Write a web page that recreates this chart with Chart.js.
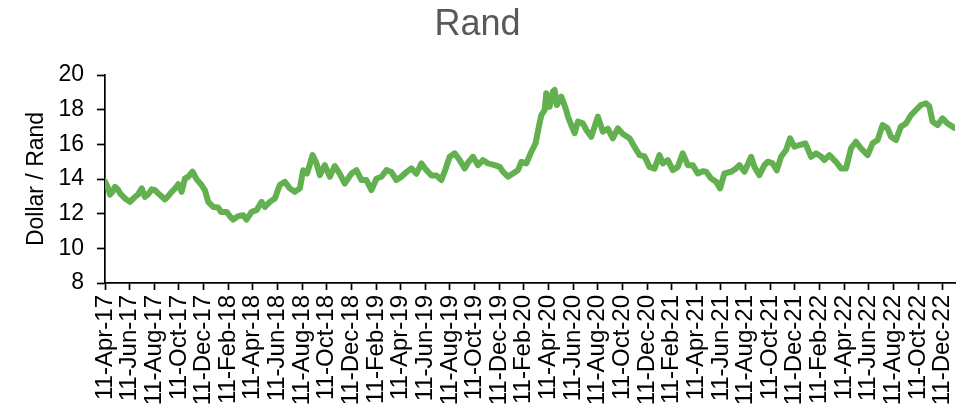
<!DOCTYPE html>
<html>
<head>
<meta charset="utf-8">
<title>Rand</title>
<script src="https://cdn.jsdelivr.net/npm/chart.js@4.4.1/dist/chart.umd.min.js"></script>
<style>
  html, body { margin: 0; padding: 0; background: #ffffff; }
  #wrap { width: 957px; height: 411px; }
</style>
</head>
<body>
<div id="wrap"><canvas id="chart" width="957" height="411"></canvas></div>
<script>
// Axis labels, one every two months starting 11 April 2017
const tickLabels = [
  '11-Apr-17', '11-Jun-17', '11-Aug-17', '11-Oct-17', '11-Dec-17',
  '11-Feb-18', '11-Apr-18', '11-Jun-18', '11-Aug-18', '11-Oct-18', '11-Dec-18',
  '11-Feb-19', '11-Apr-19', '11-Jun-19', '11-Aug-19', '11-Oct-19', '11-Dec-19',
  '11-Feb-20', '11-Apr-20', '11-Jun-20', '11-Aug-20', '11-Oct-20', '11-Dec-20',
  '11-Feb-21', '11-Apr-21', '11-Jun-21', '11-Aug-21', '11-Oct-21', '11-Dec-21',
  '11-Feb-22', '11-Apr-22', '11-Jun-22', '11-Aug-22', '11-Oct-22', '11-Dec-22'
];

// Observation times, in months after 11 April 2017
const monthOffsets = [
  0, 0.24, 0.41, 0.65, 0.81, 1.05, 1.22, 1.62, 2.03, 2.43,
  2.68, 2.98, 3.24, 3.49, 3.79, 4.06, 4.32, 4.87, 5.11, 5.41,
  5.68, 5.94, 6.22, 6.49, 6.76, 7.11, 7.44, 7.84, 8.11, 8.38,
  8.78, 9.19, 9.41, 9.87, 10.14, 10.41, 10.81, 11.22, 11.49, 11.90,
  12.30, 12.71, 12.98, 13.38, 13.79, 14.19, 14.60, 15.00, 15.41, 15.82,
  16.08, 16.41, 16.85, 17.17, 17.44, 17.84, 18.25, 18.65, 19.06, 19.46,
  20.01, 20.41, 20.82, 21.22, 21.63, 22.04, 22.44, 22.85, 23.25, 23.66,
  24.06, 24.47, 24.87, 25.28, 25.69, 26.09, 26.50, 26.90, 27.31, 27.66,
  27.98, 28.39, 28.79, 29.20, 29.52, 29.87, 30.28, 30.68, 31.09, 31.63,
  32.04, 32.30, 32.71, 33.11, 33.52, 33.80, 34.20, 34.61, 34.95, 35.22,
  35.42, 35.69, 35.82, 36.09, 36.36, 36.50, 36.68, 37.04, 37.39, 37.58,
  37.85, 38.12, 38.39, 38.79, 39.07, 39.47, 40.01, 40.41, 40.82, 41.22,
  41.63, 42.04, 42.58, 42.98, 43.39, 43.80, 44.20, 44.61, 45.01, 45.28,
  45.69, 46.09, 46.50, 46.90, 47.31, 47.71, 48.12, 48.52, 48.80, 49.20,
  49.61, 49.93, 50.28, 50.83, 51.23, 51.50, 51.91, 52.45, 52.72, 53.12,
  53.53, 53.80, 54.20, 54.53, 54.88, 55.29, 55.61, 55.96, 56.37, 56.85,
  57.32, 57.72, 58.13, 58.39, 58.80, 59.34, 59.75, 60.15, 60.56, 60.96,
  61.37, 61.91, 62.31, 62.72, 63.12, 63.53, 63.80, 64.21, 64.61, 65.02,
  65.43, 65.83, 66.24, 66.64, 66.91, 67.18, 67.58, 67.99, 68.39, 68.80,
  68.94
];

// Rand per US dollar at each observation
const dollarRand = [
  13.85, 13.5, 13.1, 13.3, 13.55, 13.4, 13.17, 12.88, 12.68, 12.97,
  13.1, 13.46, 12.97, 13.1, 13.40, 13.35, 13.17, 12.82, 13.0, 13.26,
  13.45, 13.70, 13.26, 14.03, 14.13, 14.42, 13.98, 13.65, 13.36, 12.68,
  12.39, 12.36, 12.1, 12.1, 11.85, 11.66, 11.86, 11.91, 11.66, 12.1,
  12.2, 12.68, 12.39, 12.68, 12.88, 13.65, 13.84, 13.46, 13.26, 13.46,
  14.51, 14.32, 15.38, 14.9, 14.22, 14.8, 14.13, 14.75, 14.3, 13.74,
  14.32, 14.51, 13.94, 13.94, 13.36, 14.03, 14.13, 14.51, 14.4, 13.94,
  14.13, 14.4, 14.61, 14.3, 14.9, 14.51, 14.2, 14.2, 13.94, 14.61,
  15.28, 15.48, 15.09, 14.61, 15.0, 15.28, 14.80, 15.09, 14.9, 14.8,
  14.70, 14.42, 14.13, 14.32, 14.51, 14.99, 14.9, 15.57, 16.06, 17.02,
  17.69, 17.98, 18.95, 18.17, 19.04, 19.14, 18.27, 18.75, 18.08, 17.60,
  17.11, 16.64, 17.31, 17.21, 16.83, 16.44, 17.60, 16.73, 16.9, 16.35,
  16.92, 16.6, 16.35, 15.86, 15.38, 15.3, 14.70, 14.6, 15.38, 14.90,
  15.09, 14.51, 14.7, 15.48, 14.8, 14.8, 14.32, 14.45, 14.42, 14.03,
  13.84, 13.46, 14.32, 14.42, 14.61, 14.8, 14.42, 15.28, 14.7, 14.22,
  14.8, 15.0, 14.9, 14.5, 15.28, 15.67, 16.35, 15.86, 15.96, 16.06,
  15.28, 15.48, 15.3, 15.09, 15.38, 14.99, 14.61, 14.61, 15.77, 16.15,
  15.77, 15.38, 16.06, 16.25, 17.11, 16.92, 16.44, 16.25, 17.02, 17.2,
  17.69, 17.98, 18.27, 18.37, 18.2, 17.31, 17.11, 17.50, 17.2, 17.02,
  16.95
];

const points = monthOffsets.map((m, i) => ({ x: m, y: dollarRand[i] }));

const FONT = '"Liberation Sans", Arial, Helvetica, sans-serif';

new Chart(document.getElementById('chart'), {
  type: 'line',
  data: {
    datasets: [{
      label: 'Dollar / Rand',
      data: points,
      borderColor: '#62b04f',
      borderWidth: 6,
      borderJoinStyle: 'round',
      borderCapStyle: 'round',
      pointRadius: 0,
      pointHoverRadius: 0,
      tension: 0,
      fill: false
    }]
  },
  options: {
    responsive: false,
    animation: false,
    devicePixelRatio: 1,
    layout: { padding: { left: 0, right: 2, top: 0, bottom: 0 } },
    plugins: {
      legend: { display: false },
      tooltip: { enabled: false },
      title: {
        display: true,
        text: 'Rand',
        color: '#595959',
        font: { family: FONT, size: 36, weight: 'normal', lineHeight: 1.2 },
        padding: { top: 3, bottom: 28.8 }
      }
    },
    scales: {
      x: {
        type: 'linear',
        min: 0,
        max: 69,
        afterBuildTicks: (scale) => {
          scale.ticks = tickLabels.map((_, i) => ({ value: i * 2 }));
        },
        afterFit: (scale) => {
          scale.height = 128;
          scale.paddingLeft = 0;
          scale.paddingRight = 0;
        },
        ticks: {
          autoSkip: false,
          minRotation: 90,
          maxRotation: 90,
          padding: 5,
          color: '#000000',
          font: { family: FONT, size: 24 },
          callback: (value) => tickLabels[Math.round(value / 2)]
        },
        grid: {
          display: true,
          drawOnChartArea: false,
          drawTicks: true,
          tickLength: 7,
          tickWidth: 1.7,
          tickColor: '#000000'
        },
        border: { display: true, color: '#000000', width: 1.7 }
      },
      y: {
        min: 8,
        max: 20,
        afterFit: (scale) => { scale.width = 105; },
        ticks: {
          stepSize: 2,
          padding: 13,
          color: '#000000',
          font: { family: FONT, size: 23 }
        },
        grid: {
          display: true,
          drawOnChartArea: false,
          drawTicks: true,
          tickLength: 8,
          tickWidth: 1.7,
          tickColor: '#000000'
        },
        border: { display: true, color: '#000000', width: 1.7 },
        title: {
          display: true,
          text: 'Dollar / Rand',
          color: '#000000',
          font: { family: FONT, size: 23 },
          padding: { top: 23, bottom: 0 }
        }
      }
    }
  }
});
</script>
</body>
</html>
